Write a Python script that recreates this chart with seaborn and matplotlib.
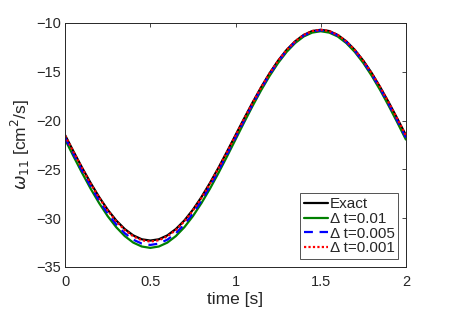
import numpy as np
import pandas as pd
import matplotlib
matplotlib.use("Agg")
import matplotlib.pyplot as plt
import seaborn as sns

# ---------- data ----------
time = np.round(np.arange(0, 2.0001, 0.05), 2)

exact = [-21.50, -23.19, -24.84, -26.40, -27.85, -29.14, -30.24, -31.12, -31.77, -32.17,
         -32.30, -32.17, -31.77, -31.12, -30.24, -29.14, -27.85, -26.40, -24.84, -23.19,
         -21.50, -19.81, -18.16, -16.60, -15.15, -13.86, -12.76, -11.88, -11.23, -10.83,
         -10.70, -10.83, -11.23, -11.88, -12.76, -13.86, -15.15, -16.60, -18.16, -19.81,
         -21.50]

dt_001 = [-21.95, -23.69, -25.38, -26.99, -28.47, -29.80, -30.93, -31.84, -32.51, -32.91,
          -33.05, -32.91, -32.51, -31.84, -30.93, -29.80, -28.47, -26.99, -25.38, -23.69,
          -21.95, -20.21, -18.52, -16.91, -15.43, -14.10, -12.97, -12.06, -11.39, -10.99,
          -10.85, -10.99, -11.39, -12.06, -12.97, -14.10, -15.43, -16.91, -18.52, -20.21,
          -21.95]

dt_0005 = [-21.75, -23.47, -25.15, -26.74, -28.22, -29.53, -30.65, -31.55, -32.21, -32.61,
           -32.75, -32.61, -32.21, -31.55, -30.65, -29.53, -28.22, -26.74, -25.15, -23.47,
           -21.75, -20.03, -18.35, -16.76, -15.28, -13.97, -12.85, -11.95, -11.29, -10.89,
           -10.75, -10.89, -11.29, -11.95, -12.85, -13.97, -15.28, -16.76, -18.35, -20.03,
           -21.75]

dt_0001 = [-21.55, -23.25, -24.90, -26.48, -27.93, -29.22, -30.33, -31.22, -31.87, -32.27,
           -32.40, -32.27, -31.87, -31.22, -30.33, -29.22, -27.93, -26.48, -24.90, -23.25,
           -21.55, -19.85, -18.20, -16.62, -15.17, -13.88, -12.77, -11.88, -11.23, -10.83,
           -10.70, -10.83, -11.23, -11.88, -12.77, -13.88, -15.17, -16.62, -18.20, -19.85,
           -21.55]

labels = ["Exact", "\u0394 t=0.01", "\u0394 t=0.005", "\u0394 t=0.001"]
colors = ["black", "#008000", "#0000ff", "#ff0000"]
styles = ["-", "-", (0, (4, 3)), (0, (1, 1))]

x_ticks = [0, 0.5, 1, 1.5, 2]
y_ticks = [-35, -30, -25, -20, -15, -10]

# ---------- plot ----------
sns.set_style("white")
plt.rcParams["font.family"] = ["Liberation Sans", "DejaVu Sans"]
plt.rcParams["mathtext.fontset"] = "dejavusans"

fig = plt.figure(figsize=(4.49, 3.10), dpi=100)
ax = fig.add_axes([0.145, 0.139, 0.759, 0.787])

for vals, lab, col, ls in zip([exact, dt_001, dt_0005, dt_0001], labels, colors, styles):
    df = pd.DataFrame({"time": time, "w": vals})
    sns.lineplot(data=df, x="time", y="w", ax=ax, color=col, linestyle=ls,
                 linewidth=1.6, label=lab)

ax.set_xlim(0, 2)
ax.set_ylim(-35, -10)
ax.set_xticks(x_ticks)
ax.set_xticklabels(["0", "0.5", "1", "1.5", "2"])
ax.set_yticks(y_ticks)
ax.tick_params(direction="in", length=3, width=0.6, top=True, right=True,
               labelsize=10.5, colors="#262626", pad=3)
ax.tick_params(axis="x", pad=6)
for sp in ax.spines.values():
    sp.set_color("#262626")
    sp.set_linewidth(0.7)

ax.set_xlabel("time [s]", fontsize=12.5, color="#262626", labelpad=2)
ax.set_ylabel(r"$\omega_{11}$ [cm$^2$/s]", fontsize=12.5, color="#262626", labelpad=3)

leg = ax.legend(loc="lower right", fontsize=11, frameon=True, fancybox=False,
                handlelength=1.6, handletextpad=0.1, borderpad=0.25, labelspacing=0.05,
                borderaxespad=0.5)
leg.get_frame().set_edgecolor("#262626")
leg.get_frame().set_linewidth(0.7)

fig.savefig("out.png", dpi=100)
